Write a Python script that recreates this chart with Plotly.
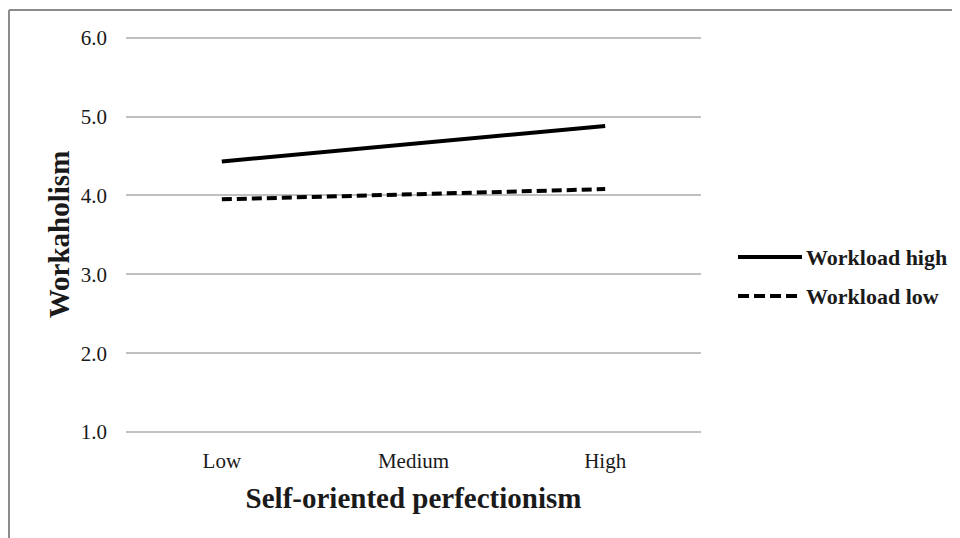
import plotly.graph_objects as go

categories = ["Low", "Medium", "High"]
workload_high = [4.43, 4.65, 4.88]
workload_low = [3.95, 4.01, 4.08]
series_names = ["Workload high", "Workload low"]
y_ticks = [1.0, 2.0, 3.0, 4.0, 5.0, 6.0]
y_tick_labels = ["1.0", "2.0", "3.0", "4.0", "5.0", "6.0"]

# page offset introduced by the html body margin
OFF = 8
W, H = 960 - OFF, 538 - OFF
L, R, T, B = 118, 259, 27, 104
PW, PH = W - L - R, H - T - B
font_family = "Liberation Serif, Times New Roman, serif"
text_color = "#1a1a1a"
DASH = "10px,5px"


def fx(page_x):
    return (page_x - OFF - L) / PW


def fy(page_y):
    return ((H - B) - (page_y - OFF)) / PH


fig = go.Figure()
fig.add_trace(go.Scatter(x=categories, y=workload_high, mode="lines", name=series_names[0],
                         line=dict(color="black", width=4), showlegend=False))
fig.add_trace(go.Scatter(x=categories, y=workload_low, mode="lines", name=series_names[1],
                         line=dict(color="black", width=4, dash=DASH), showlegend=False))

shapes = []
annotations = []
for name, ly, dash in [(series_names[0], 257, "solid"), (series_names[1], 296, "11px,5px")]:
    shapes.append(dict(type="line", xref="paper", yref="paper",
                       x0=fx(738), x1=fx(802), y0=fy(ly), y1=fy(ly),
                       line=dict(color="black", width=4, dash=dash)))
    annotations.append(dict(xref="paper", yref="paper", x=fx(804), y=fy(ly),
                            text="<b>" + name + "</b>", showarrow=False,
                            xanchor="left", yanchor="middle",
                            font=dict(family=font_family, size=22, color=text_color)))

# outer frame: top and left edges
shapes.append(dict(type="line", xref="paper", yref="paper", x0=fx(9), x1=fx(975), y0=fy(10), y1=fy(10),
                   line=dict(color="#8c8c8c", width=2)))
shapes.append(dict(type="line", xref="paper", yref="paper", x0=fx(9), x1=fx(9), y0=fy(10), y1=fy(560),
                   line=dict(color="#8c8c8c", width=2)))

fig.update_layout(
    width=W, height=H,
    margin=dict(l=L, r=R, t=T, b=B),
    paper_bgcolor="white", plot_bgcolor="white",
    font=dict(family=font_family, color=text_color),
    shapes=shapes, annotations=annotations,
    xaxis=dict(type="category", range=[-0.5, 2.5], showgrid=False, zeroline=False,
               showline=False, ticks="", ticklabelstandoff=12,
               tickfont=dict(size=21, family=font_family, color=text_color),
               title=dict(text="<b>Self-oriented perfectionism</b>",
                          font=dict(size=29, family=font_family, color=text_color), standoff=15)),
    yaxis=dict(range=[0.975, 6.034], tickvals=y_ticks, ticktext=y_tick_labels, showgrid=True,
               gridcolor="#c0c0c0", gridwidth=2, zeroline=False, showline=False, ticks="",
               ticklabelstandoff=18,
               tickfont=dict(size=21, family=font_family, color=text_color),
               title=dict(text="<b>Workaholism</b>",
                          font=dict(size=29, family=font_family, color=text_color), standoff=2)),
)

fig.write_html("out.html")
